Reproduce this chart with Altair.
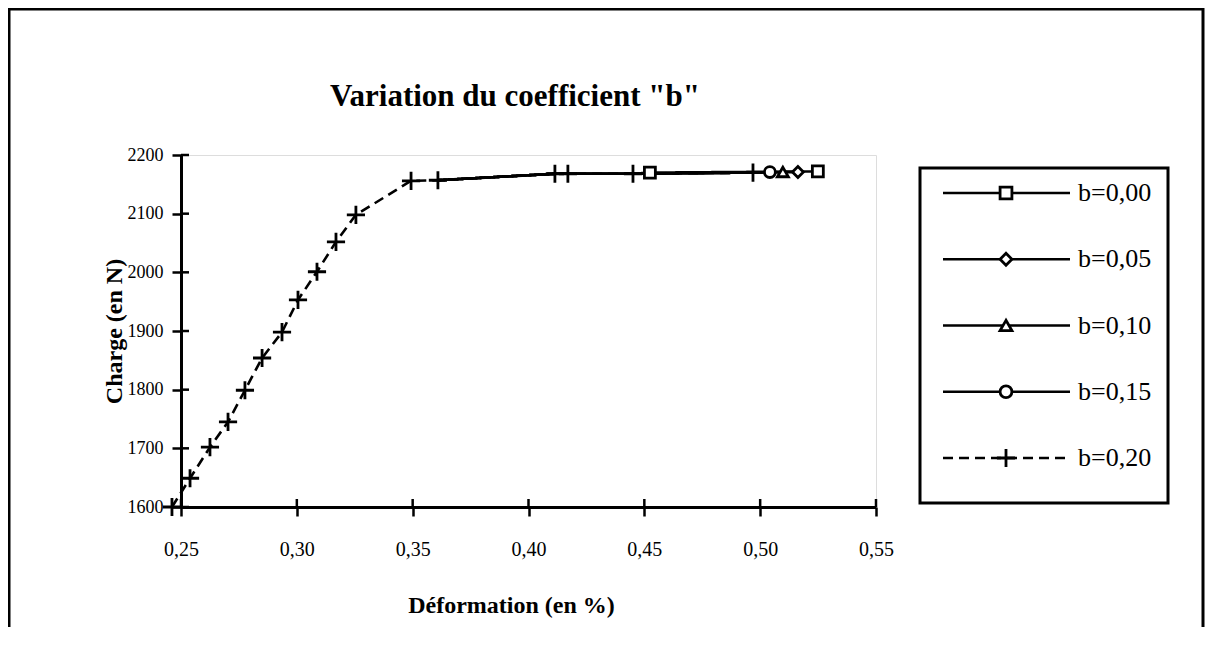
import altair as alt
import pandas as pd

# ---------------- data ----------------
series = ["b=0,00", "b=0,05", "b=0,10", "b=0,15", "b=0,20"]

# b=0,20 (crosses, dashed line) - full curve
b020_x = [0.2461, 0.2539, 0.2625, 0.2703, 0.2776, 0.2850, 0.2936, 0.3005, 0.3087,
          0.3169, 0.3255, 0.3493, 0.3609, 0.4114, 0.4170, 0.4451, 0.4969]
b020_y = [1600, 1649, 1702, 1745, 1799, 1854, 1898, 1953, 2001,
          2052, 2098, 2156, 2157, 2168, 2168, 2168, 2170]

# other series: line points (curve shared with b=0,20 on the plateau) and visible markers
b015_x = [0.3609, 0.4114, 0.4451, 0.4969, 0.5042]
b015_y = [2157, 2168, 2168, 2170, 2171]
b015_mx = [0.5042]
b015_my = [2171]

b010_x = [0.3609, 0.4114, 0.4451, 0.4969, 0.5098]
b010_y = [2157, 2168, 2168, 2170, 2171]
b010_mx = [0.5098]
b010_my = [2171]

b005_x = [0.3609, 0.4114, 0.4451, 0.4969, 0.5163]
b005_y = [2157, 2168, 2168, 2170, 2171]
b005_mx = [0.5163]
b005_my = [2171]

b000_x = [0.3609, 0.4114, 0.4451, 0.4524, 0.5249]
b000_y = [2157, 2168, 2168, 2170, 2172]
b000_mx = [0.4524, 0.5249]
b000_my = [2170, 2172]

x_ticks = [0.25, 0.30, 0.35, 0.40, 0.45, 0.50, 0.55]
y_ticks = [1600, 1700, 1800, 1900, 2000, 2100, 2200]

title_text = "Variation  du  coefficient  \"b\""

# ---------------- tables ----------------
line_rows = []
for name, xs_, ys_ in [("b=0,20", b020_x, b020_y), ("b=0,15", b015_x, b015_y),
                       ("b=0,10", b010_x, b010_y), ("b=0,05", b005_x, b005_y),
                       ("b=0,00", b000_x, b000_y)]:
    for xv, yv in zip(xs_, ys_):
        line_rows.append({"series": name, "x": xv, "y": yv})
lines_df = pd.DataFrame(line_rows)

mark_rows = []
for name, xs_, ys_ in [("b=0,20", b020_x, b020_y), ("b=0,15", b015_mx, b015_my),
                       ("b=0,10", b010_mx, b010_my), ("b=0,05", b005_mx, b005_my),
                       ("b=0,00", b000_mx, b000_my)]:
    for xv, yv in zip(xs_, ys_):
        mark_rows.append({"series": name, "x": xv, "y": yv})
marks_df = pd.DataFrame(mark_rows)

legend_df = pd.DataFrame({"series": series})
xt_df = pd.DataFrame({"x": x_ticks})
yt_df = pd.DataFrame({"y": y_ticks})
one = pd.DataFrame({"k": [0]})
title_df = pd.DataFrame({"t": [title_text]})

FONT = "Liberation Serif"
PLUS = "M-1,0H1M0,-1V1"
W, H = 695, 352

shape_scale = alt.Scale(domain=series,
                        range=["square", "diamond", "triangle-up", "circle", PLUS])
dash_scale = alt.Scale(domain=series, range=[[1, 0], [1, 0], [1, 0], [1, 0], [10, 6]])

xs = alt.Scale(domain=[0.25, 0.55], nice=False, zero=False)
ys = alt.Scale(domain=[1600, 2200], nice=False, zero=False)

x_axis = alt.Axis(values=x_ticks, labelExpr="replace(format(datum.value, '.2f'), '.', ',')",
                  title="Déformation  (en  %)", grid=False, tickSize=9, tickWidth=2.5,
                  domainWidth=3, domainColor="black", tickColor="black", labelFlush=False,
                  labelFont=FONT, labelFontSize=20, labelColor="black", labelPadding=23,
                  titleFont=FONT, titleFontSize=24, titleFontWeight="bold", titleColor="black",
                  titleX=330, titleY=98, titleBaseline="middle")
y_axis = alt.Axis(values=y_ticks, format="d", title="Charge  (en  N)", grid=False,
                  tickSize=9, tickWidth=2.5, domainWidth=3, domainColor="black",
                  tickColor="black", labelFlush=False, labelFont=FONT, labelFontSize=18,
                  labelColor="black", labelPadding=9, titleFont=FONT, titleFontSize=24,
                  titleFontWeight="bold", titleColor="black", titleX=-67,
                  titleBaseline="middle")

base_lines = alt.Chart(lines_df).mark_line(color="black", strokeWidth=2.6).encode(
    x=alt.X("x:Q", scale=xs, axis=x_axis),
    y=alt.Y("y:Q", scale=ys, axis=y_axis),
    detail="series:N",
    strokeDash=alt.StrokeDash("series:N", scale=dash_scale, legend=None),
    order=alt.Order("x:Q"),
)

points = alt.Chart(marks_df).mark_point(filled=False, fill="white", fillOpacity=1,
                                        color="black", strokeWidth=2.8, opacity=1).encode(
    x=alt.X("x:Q", scale=xs),
    y=alt.Y("y:Q", scale=ys),
    shape=alt.Shape("series:N", scale=shape_scale, legend=None),
    size=alt.condition(alt.datum.series == "b=0,20", alt.value(330), alt.value(120)),
)

xt_in = alt.Chart(xt_df).mark_rule(color="black", strokeWidth=2.5).encode(
    x=alt.X("x:Q", scale=xs), y=alt.value(H), y2=alt.value(H - 8))
yt_in = alt.Chart(yt_df).mark_rule(color="black", strokeWidth=2.5).encode(
    y=alt.Y("y:Q", scale=ys), x=alt.value(0), x2=alt.value(8))

data_layer = alt.layer(base_lines, xt_in, yt_in, points)

# ---------------- legend ----------------
ly = alt.Scale(type="point", domain=series, range=[38, 303], padding=0)
leg_box = alt.Chart(one).mark_rect(fill="white", stroke="black", strokeWidth=3).encode(
    x=alt.value(739), x2=alt.value(987), y=alt.value(13), y2=alt.value(348))
leg_lines = alt.Chart(legend_df).mark_rule(color="black", strokeWidth=2.6).encode(
    y=alt.Y("series:N", scale=ly, axis=None),
    x=alt.value(762), x2=alt.value(889),
    strokeDash=alt.StrokeDash("series:N", scale=dash_scale, legend=None))
leg_pts = alt.Chart(legend_df).mark_point(filled=False, fill="white", fillOpacity=1,
                                          color="black", strokeWidth=2.8, opacity=1).encode(
    y=alt.Y("series:N", scale=ly, axis=None),
    x=alt.value(825),
    shape=alt.Shape("series:N", scale=shape_scale, legend=None),
    size=alt.condition(alt.datum.series == "b=0,20", alt.value(330), alt.value(140)))
leg_txt = alt.Chart(legend_df).mark_text(font=FONT, fontSize=26, align="left",
                                         baseline="middle", color="black").encode(
    y=alt.Y("series:N", scale=ly, axis=None),
    x=alt.value(897), text="series:N")
legend_layer = alt.layer(leg_box, leg_lines, leg_pts, leg_txt)

frame = alt.Chart(one).mark_rect(fill=None, stroke="black", strokeWidth=3).encode(
    x=alt.value(-172), x2=alt.value(1022), y=alt.value(-146), y2=alt.value(620))

title_mark = alt.Chart(title_df).mark_text(font=FONT, fontSize=31, fontWeight="bold",
                                           align="center", baseline="middle",
                                           color="black").encode(
    x=alt.value(334), y=alt.value(-58), text="t:N")

chart = alt.layer(data_layer, legend_layer, frame, title_mark).resolve_scale(
    y="independent", x="independent"
).properties(
    width=W, height=H,
    padding={"left": 173, "top": 147, "right": 329, "bottom": 120},
    autosize=alt.AutoSizeParams(type="none"),
).configure_view(stroke=None).configure(background="white")

chart.save("out.html", embed_options={"renderer": "svg", "actions": False})
